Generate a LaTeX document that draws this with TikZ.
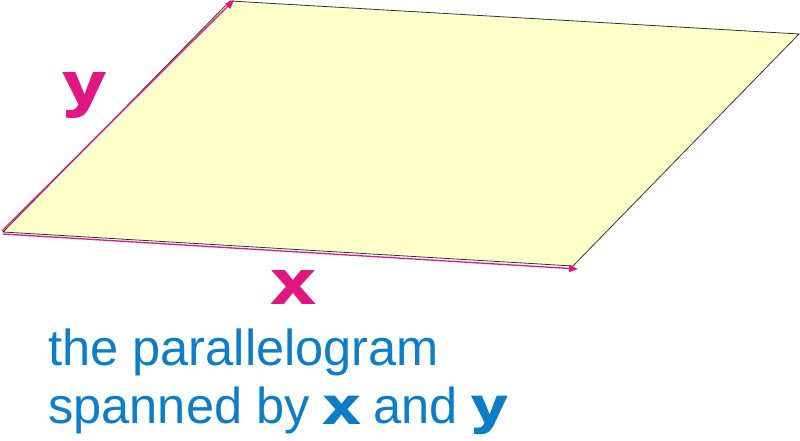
\documentclass[tikz,border=0pt]{standalone}
\usepackage{fontspec}
\setmainfont{Liberation Sans}
\newfontface\heavyfont{Liberation Sans Bold}[FakeBold=3,FakeStretch=1.25]
\usetikzlibrary{arrows.meta}
\definecolor{vpink}{RGB}{226,22,128}
\definecolor{tblue}{RGB}{12,126,200}
\definecolor{pfill}{RGB}{255,255,202}
\newcommand{\hv}[1]{{\heavyfont #1}}
\tikzset{
  vecarrow/.style={draw=vpink, line width=1.3pt, -{Triangle[length=9pt,width=7pt]}},
  border/.style={draw=black!80, line width=0.8pt, fill=pfill},
  veclabel/.style={text=vpink, font=\fontsize{60}{60}\heavyfont, inner sep=0pt},
  caption/.style={text=tblue, font=\fontsize{50.6}{58}\selectfont, inner sep=0pt, anchor=base west},
}
\begin{document}
\begin{tikzpicture}[x=1pt,y=-1pt]
\useasboundingbox (0,0) rectangle (800,441);
\coordinate (A) at (3,232);
\coordinate (B) at (573,266);
\coordinate (C) at (799,34);
\coordinate (D) at (230,1);
\coordinate (Ax) at (3,234);
\coordinate (Bx) at (578,269);
\coordinate (Ay) at (2,231);
\coordinate (Dy) at (234,0);
\draw[border] (A) -- (B) -- (C) -- (D) -- cycle;
\draw[vecarrow] (Ax) -- (Bx);
\draw[vecarrow] (Ay) -- (Dy);
\node[veclabel] (ylab) at (84,95) {y};
\node[veclabel] (xlab) at (293,287) {x};
\node[caption] (line1) at (48,365) {the parallelogram};
\node[caption] (line2) at (48,423) {spanned by \hv{x} and \hv{y}};
\end{tikzpicture}
\end{document}
